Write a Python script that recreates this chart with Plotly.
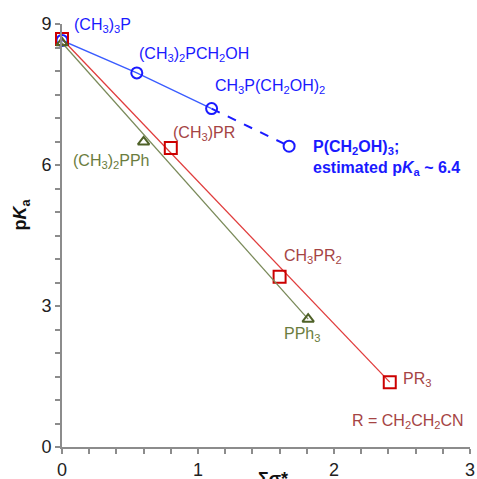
import plotly.graph_objects as go

# ---- data ----
blue_x = [0.0, 0.55, 1.10, 1.67]
blue_y = [8.65, 7.96, 7.20, 6.40]

red_x = [0.0, 0.80, 1.60, 2.41]
red_y = [8.68, 6.36, 3.62, 1.38]

green_x = [0.0, 0.60, 1.81]
green_y = [8.60, 6.49, 2.72]

x_ticks = [0, 1, 2, 3]
y_ticks = [0, 3, 6, 9]

BLUE = "#1a1aff"
BLUE_LINE = "#3a5cff"
RED_M = "#cc0000"
RED_L = "#e03c3c"
RED_T = "#a54444"
GREEN_M = "#4f6228"
GREEN_L = "#7a8a5a"
GREEN_T = "#6b7d3e"
FONT = "Arial, Liberation Sans, sans-serif"

fig = go.Figure()

# blue solid part (first three points) and dashed extension
fig.add_trace(go.Scatter(x=blue_x[:3], y=blue_y[:3], mode="lines",
                         line=dict(color=BLUE_LINE, width=1.3), showlegend=False))
fig.add_trace(go.Scatter(x=blue_x[2:], y=blue_y[2:], mode="lines",
                         line=dict(color=BLUE, width=2, dash="dash"), showlegend=False))
fig.add_trace(go.Scatter(x=blue_x, y=blue_y, mode="markers", cliponaxis=False,
                         marker=dict(symbol="circle-open", size=11, color=BLUE,
                                     line=dict(width=2, color=BLUE)), showlegend=False))

# red line (from first to last point) and markers
fig.add_trace(go.Scatter(x=[red_x[0], red_x[-1]], y=[red_y[0], red_y[-1]], mode="lines",
                         line=dict(color=RED_L, width=1.3), showlegend=False))
fig.add_trace(go.Scatter(x=red_x, y=red_y, mode="markers", cliponaxis=False,
                         marker=dict(symbol="square-open", size=12, color=RED_M,
                                     line=dict(width=2, color=RED_M)), showlegend=False))

# green line and markers
fig.add_trace(go.Scatter(x=[green_x[0], green_x[-1]], y=[green_y[0], green_y[-1]], mode="lines",
                         line=dict(color=GREEN_L, width=1.3), showlegend=False))
fig.add_trace(go.Scatter(x=green_x, y=green_y, mode="markers", cliponaxis=False,
                         marker=dict(symbol="triangle-up-open", size=10, color=GREEN_M,
                                     line=dict(width=2, color=GREEN_M)), showlegend=False))

def lab(text, x, y, color, size=16, bold=False):
    if bold:
        text = "<b>" + text + "</b>"
    fig.add_annotation(x=x, y=y, xref="x", yref="y", text=text, showarrow=False,
                       xanchor="left", yanchor="middle", align="left",
                       font=dict(family=FONT, size=size, color=color))

lab("(CH<sub>3</sub>)<sub>3</sub>P", 0.07, 8.96, BLUE)
lab("(CH<sub>3</sub>)<sub>2</sub>PCH<sub>2</sub>OH", 0.55, 8.36, BLUE)
lab("CH<sub>3</sub>P(CH<sub>2</sub>OH)<sub>2</sub>", 1.11, 7.66, BLUE)
lab("P(CH<sub>2</sub>OH)<sub>3</sub>;<br>estimated p<i>K</i><sub>a</sub> ~ 6.4", 1.83, 6.14, BLUE, bold=True)
lab("(CH<sub>3</sub>)PR", 0.80, 6.68, RED_T)
lab("CH<sub>3</sub>PR<sub>2</sub>", 1.62, 4.06, RED_T)
lab("PR<sub>3</sub>", 2.49, 1.44, RED_T)
lab("R = CH<sub>2</sub>CH<sub>2</sub>CN", 2.12, 0.55, RED_T)
lab("(CH<sub>3</sub>)<sub>2</sub>PPh", 0.065, 6.08, GREEN_T)
lab("PPh<sub>3</sub>", 1.62, 2.4, GREEN_T)

# axis titles
fig.add_annotation(x=-0.1, y=0.55, xref="paper", yref="paper",
                   text="<b>p<i>K</i><sub>a</sub></b>", textangle=-90, showarrow=False,
                   xanchor="center", yanchor="middle",
                   font=dict(family=FONT, size=18, color="#111"))
fig.add_annotation(x=0.517, y=-0.048, xref="paper", yref="paper",
                   text="<b>Σσ*</b>", showarrow=False,
                   xanchor="center", yanchor="top",
                   font=dict(family=FONT, size=18, color="#111"))

axis_common = dict(showgrid=False, zeroline=False, showline=True, automargin=False,
                   linecolor="#8c8c8c", linewidth=2, ticks="outside",
                   tickcolor="#8c8c8c", tickwidth=1.5, ticklen=5,
                   tickfont=dict(family=FONT, size=18, color="#222"))

fig.update_layout(
    width=477, height=479,
    margin=dict(l=62, r=7, t=24, b=32, autoexpand=False),
    paper_bgcolor="white", plot_bgcolor="white",
    xaxis=dict(range=[0, 3], tickvals=x_ticks, ticktext=[str(v) for v in x_ticks],
               minor=dict(dtick=0.2, ticks="outside", ticklen=5, tickcolor="#8c8c8c", tickwidth=1.5),
               **axis_common),
    yaxis=dict(range=[0, 9], tickvals=y_ticks, ticktext=[str(v) for v in y_ticks],
               minor=dict(dtick=0.5, ticks="outside", ticklen=5, tickcolor="#8c8c8c", tickwidth=1.5),
               **axis_common),
)

# remove the default page margin so the figure fills the window exactly
fig.write_html("out.html", config={"displayModeBar": False},
               post_script="document.body.style.margin='0';document.body.style.overflow='hidden';")
